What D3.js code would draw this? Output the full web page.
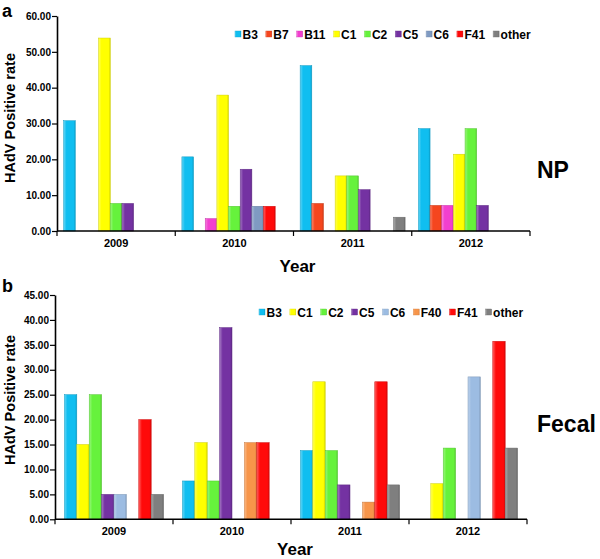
<!DOCTYPE html>
<html><head><meta charset="utf-8">
<script src="https://cdn.jsdelivr.net/npm/d3@7"></script>
<style>
body{margin:0;background:#fff;}
text{font-family:Arial,"Liberation Sans",sans-serif;font-weight:bold;fill:#000;}
</style></head>
<body><svg id="c" width="600" height="559"></svg>
<script>
const years = ["2009","2010","2011","2012"];
// Panel a: NP
const npTypes = ["B3","B7","B11","C1","C2","C5","C6","F41","other"];
const npValues = {
  "2009": [30.77, 0, 0, 53.85, 7.69, 7.69, 0, 0, 0],
  "2010": [20.69, 0, 3.45, 37.93, 6.90, 17.24, 6.90, 6.90, 0],
  "2011": [46.15, 7.69, 0, 15.38, 15.38, 11.54, 0, 0, 3.85],
  "2012": [28.57, 7.14, 7.14, 21.43, 28.57, 7.14, 0, 0, 0]
};
const npTicks = [0,10,20,30,40,50,60];
// Panel b: Fecal
const feTypes = ["B3","C1","C2","C5","C6","F40","F41","other"];
const feValues = {
  "2009": [25.00, 15.00, 25.00, 5.00, 5.00, 0, 20.00, 5.00],
  "2010": [7.69, 15.38, 7.69, 38.46, 0, 15.38, 15.38, 0],
  "2011": [13.79, 27.59, 13.79, 6.90, 0, 3.45, 27.59, 6.90],
  "2012": [0, 7.14, 14.29, 0, 28.57, 0, 35.71, 14.29]
};
const feTicks = [0,5,10,15,20,25,30,35,40,45];

const colorsA = {B3:"#10BEF0",B7:"#F5461E",B11:"#F23FCF",C1:"#FFFF00",C2:"#66F23C",C5:"#7432A2",C6:"#7F9AC2",F41:"#FF0A0A",other:"#7F7F7F"};
const colorsB = {B3:"#10BEF0",C1:"#FFFF00",C2:"#66F23C",C5:"#7432A2",C6:"#9CBCE2",F40:"#F7954A",F41:"#FF0A0A",other:"#7F7F7F"};

const svg = d3.select("#c");
const defs = svg.append("defs");
function grad(id, col){
  const c = d3.color(col);
  const g = defs.append("linearGradient").attr("id",id).attr("x1","0").attr("x2","1").attr("y1","0").attr("y2","0");
  g.append("stop").attr("offset","0%").attr("stop-color", d3.interpolateRgb(col,"#fff")(0.35));
  g.append("stop").attr("offset","25%").attr("stop-color", col);
  g.append("stop").attr("offset","85%").attr("stop-color", col);
  g.append("stop").attr("offset","100%").attr("stop-color", c.darker(0.5).formatHex());
}

function panel(cfg){
  const {types, values, ticks, colors, x0, x1, yTop, yBot, yMax, key, legendX, legendY, innerPad, letter, letterY, side, sideY, labelY, yearY} = cfg;
  types.forEach(t=>grad(key+t, colors[t]));
  const g = svg.append("g");
  const xs = d3.scaleBand().domain(years).range([x0,x1]).padding(0);
  const xi = d3.scaleBand().domain(types).range([0, xs.bandwidth()]).paddingInner(0).paddingOuter(innerPad);
  const y = d3.scaleLinear().domain([0,yMax]).range([yBot,yTop]);

  // bars
  years.forEach(yr=>{
    const data = types.map((t,i)=>({t, v: values[yr][i]})).filter(d=>d.v>0);
    g.append("g").selectAll("rect").data(data).join("rect")
      .attr("x", d=>xs(yr)+xi(d.t))
      .attr("y", d=>y(d.v))
      .attr("width", xi.bandwidth())
      .attr("height", d=>yBot-y(d.v))
      .attr("fill", d=>`url(#${key}${d.t})`)
      .attr("stroke", d=>d3.color(colors[d.t]).darker(0.6).formatHex())
      .attr("stroke-width",0.5);
  });

  // y axis
  const ya = g.append("g").attr("transform",`translate(${x0},0)`)
    .call(d3.axisLeft(y).tickValues(ticks).tickFormat(d3.format(".2f")).tickSize(5).tickSizeOuter(0));
  ya.select(".domain").attr("stroke","#000").attr("stroke-width",1.6);
  ya.selectAll(".tick line").attr("stroke","#000").attr("stroke-width",1.2);
  ya.selectAll(".tick text").attr("font-size",10).attr("x",-6).style("font-family","Arial, 'Liberation Sans', sans-serif").style("font-weight","bold");

  // x axis with boundary ticks
  const xa = g.append("g").attr("transform",`translate(0,${yBot})`);
  xa.append("line").attr("x1",x0).attr("x2",x1).attr("stroke","#000").attr("stroke-width",1.6);
  const bounds = years.map(yr=>xs(yr)).concat([x1]);
  xa.selectAll("line.tk").data(bounds).join("line").attr("class","tk")
    .attr("x1",d=>d).attr("x2",d=>d).attr("y1",0).attr("y2",5).attr("stroke","#000").attr("stroke-width",1.2);
  xa.selectAll("text").data(years).join("text")
    .attr("x",d=>xs(d)+xs.bandwidth()/2).attr("y",16).attr("text-anchor","middle").attr("font-size",11).text(d=>d);

  // axis titles
  g.append("text").attr("x",(x0+x1)/2+4).attr("y",yearY).attr("text-anchor","middle").attr("font-size",17).text("Year");
  g.append("text").attr("transform",`translate(15,${labelY}) rotate(-90)`).attr("text-anchor","middle")
    .attr("font-size",15).attr("textLength",130).attr("lengthAdjust","spacingAndGlyphs").text("HAdV Positive rate");
  g.append("text").attr("x",2).attr("y",letterY).attr("font-size",18).text(letter);
  g.append("text").attr("x",537).attr("y",sideY).attr("font-size",23).text(side);

  // legend
  let lx = legendX;
  const lg = g.append("g");
  types.forEach(t=>{
    lg.append("rect").attr("x",lx).attr("y",legendY-3).attr("width",6).attr("height",6)
      .attr("fill",`url(#${key}${t})`).attr("stroke", d3.color(colors[t]).darker(0.4).formatHex()).attr("stroke-width",0.4);
    const tx = lg.append("text").attr("x",lx+7.5).attr("y",legendY+4.5).attr("font-size",12).text(t);
    lx += 7.5 + tx.node().getComputedTextLength() + 8;
  });
}

panel({types:npTypes, values:npValues, ticks:npTicks, colors:colorsA, x0:57, x1:530, yTop:16, yBot:231, yMax:60,
  key:"a", legendX:235, legendY:34, innerPad:0.57, letter:"a", letterY:17, side:"NP", sideY:178, labelY:118, yearY:272});
panel({types:feTypes, values:feValues, ticks:feTicks, colors:colorsB, x0:55, x1:527, yTop:295, yBot:519.3, yMax:45,
  key:"b", legendX:259, legendY:312, innerPad:0.76, letter:"b", letterY:292, side:"Fecal", sideY:432, labelY:400, yearY:555});
</script></body></html>
